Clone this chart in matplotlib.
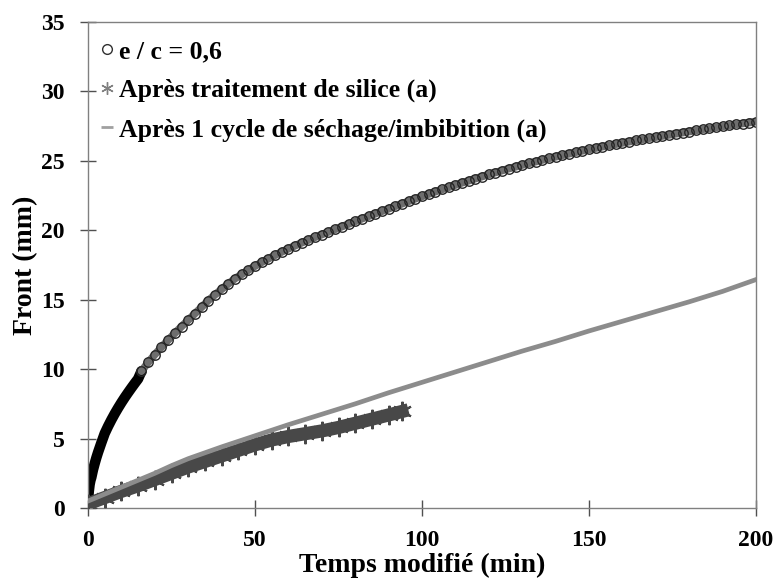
import matplotlib
matplotlib.use("Agg")
import matplotlib.pyplot as plt

plt.rcParams["font.family"] = ["Liberation Serif", "DejaVu Serif"]
plt.rcParams["font.weight"] = "bold"

# e / c = 0,6 : début très dense (bande noire) puis cercles creux
T_EC_DENSE = [0, 0.1, 0.25, 0.5, 0.75, 1, 1.5, 2, 2.5, 3, 4, 5, 6, 7, 8, 9, 10,
              11, 12, 13, 14, 15]
Y_EC_DENSE = [0.2, 0.75, 1.2, 1.7, 2.0, 2.2, 2.75, 3.2, 3.62, 4.0, 4.7, 5.37, 5.88,
              6.35, 6.79, 7.2, 7.59, 7.96, 8.31, 8.65, 8.98, 9.3]
T_EC = list(range(16, 201, 2))
Y_EC = [9.85, 10.48, 11.05, 11.58, 12.1, 12.59, 13.07, 13.53, 14.0, 14.46,
        14.94, 15.35, 15.75, 16.14, 16.52, 16.82, 17.13, 17.42, 17.69, 17.95,
        18.2, 18.44, 18.67, 18.89, 19.1, 19.3, 19.5, 19.69, 19.88, 20.07,
        20.26, 20.45, 20.64, 20.83, 21.01, 21.19, 21.37, 21.55, 21.73, 21.91,
        22.09, 22.27, 22.44, 22.61, 22.78, 22.94, 23.1, 23.26, 23.42, 23.57,
        23.72, 23.87, 24.02, 24.16, 24.3, 24.44, 24.57, 24.7, 24.82, 24.94,
        25.06, 25.18, 25.29, 25.4, 25.51, 25.62, 25.72, 25.82, 25.92, 26.02,
        26.11, 26.2, 26.29, 26.38, 26.47, 26.55, 26.63, 26.71, 26.79, 26.87,
        26.95, 27.03, 27.11, 27.19, 27.27, 27.34, 27.41, 27.48, 27.55, 27.62,
        27.69, 27.76, 27.83]

# Après traitement de silice (a)
T_SIL = [0, 5, 10, 15, 20, 25, 30, 35, 40, 45, 50, 55, 60, 65, 70, 75, 80, 85, 90, 94]
Y_SIL = [0.3, 0.75, 1.2, 1.6, 2.05, 2.5, 2.95, 3.35, 3.75, 4.15, 4.55, 4.9, 5.15,
         5.35, 5.55, 5.8, 6.1, 6.4, 6.7, 6.95]

# Après 1 cycle de séchage/imbibition (a)
T_CYC = [0, 5, 10, 15, 20, 25, 30, 40, 50, 60, 70, 80, 90, 100, 110, 120, 130,
         140, 150, 160, 170, 180, 190, 200]
Y_CYC = [0.5, 1.0, 1.5, 2.0, 2.5, 3.05, 3.55, 4.4, 5.2, 6.0, 6.75, 7.5, 8.3, 9.05,
         9.8, 10.55, 11.3, 12.0, 12.75, 13.45, 14.15, 14.85, 15.6, 16.45]

LABELS = ["e / c = 0,6", "Après traitement de silice (a)",
          "Après 1 cycle de séchage/imbibition (a)"]

fig = plt.figure(figsize=(7.76, 5.78), dpi=100)
ax = fig.add_axes([88 / 776, 1 - 508 / 578, (756 - 88) / 776, (508 - 22) / 578])

ax.plot(T_EC_DENSE + T_EC[:1], Y_EC_DENSE + Y_EC[:1], "-", color="black", lw=7.5,
        solid_capstyle="round", zorder=2)
# bande grise sous les cercles (points très serrés dans l'original)
ax.plot(T_EC, Y_EC, "-", color="#6e6e6e", lw=5.5, solid_capstyle="round", zorder=2)
ax.plot(T_EC, Y_EC, "o", ms=6.8, mfc="none", mec="#262626", mew=1.0, zorder=2)

ax.plot(T_SIL, Y_SIL, "-", color="#484848", lw=9.5, zorder=3)
ax.plot(T_SIL, Y_SIL, ls="none", marker=(6, 2, 0), ms=14, color="#484848",
        mew=1.5, zorder=3)

ax.plot(T_CYC, Y_CYC, "-", color="#8c8c8c", lw=3.4, zorder=4)

# légende : marqueurs seuls, sans cadre
h1, = ax.plot([], [], "o", ms=7, mfc="none", mec="#303030", mew=1.0)
h2, = ax.plot([], [], ls="none", marker=(6, 2, 0), ms=9, color="#808080", mew=1.0)
h3, = ax.plot([], [], ls="none", marker="_", ms=9, color="#a0a0a0", mew=2)
leg = ax.legend([h1, h2, h3], LABELS, loc="upper left", bbox_to_anchor=(-0.005, 0.995),
                frameon=False, fontsize=18.5, handlelength=0.5, handletextpad=0.22,
                labelspacing=0.62, borderaxespad=0.2)

ax.set_xlim(0, 200)
ax.set_ylim(0, 35)
ax.set_xticks([0, 50, 100, 150, 200])
ax.set_yticks(range(0, 36, 5))
for s in ax.spines.values():
    s.set_color("#808080")
    s.set_linewidth(1.0)
ax.tick_params(direction="inout", length=12, width=1.0, color="#505050",
               labelsize=17)
ax.tick_params(axis="x", pad=10)
ax.tick_params(axis="y", pad=11)
ax.set_xlabel("Temps modifié (min)", fontsize=20, fontweight="bold", labelpad=1)
ax.set_ylabel("Front (mm)", fontsize=20, fontweight="bold", labelpad=2)

fig.savefig("out.png", dpi=100)
